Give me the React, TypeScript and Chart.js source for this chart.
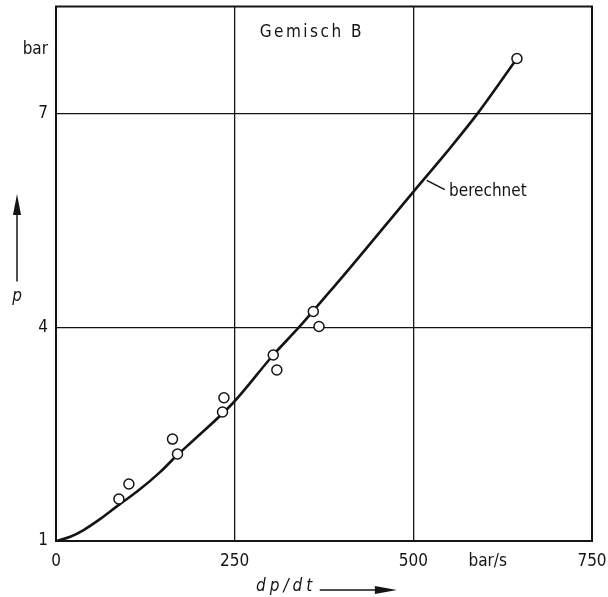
import React, { useEffect, useRef } from "react";
import { Chart, registerables } from "chart.js";

Chart.register(...registerables);

// "berechnet" curve
const CURVE_X = [0, 20, 38, 62, 87, 113, 146, 169, 192, 248, 304, 341, 383, 402, 500, 547, 590, 645];
const CURVE_Y = [1, 1.06, 1.15, 1.31, 1.5, 1.69, 1.97, 2.2, 2.41, 2.94, 3.61, 4.01, 4.5, 4.72, 5.9, 6.46, 7.0, 7.77];

// measured points
const PTS_X = [88, 102, 163, 170, 235, 233, 304, 309, 360, 368, 645];
const PTS_Y = [1.59, 1.8, 2.43, 2.22, 3.01, 2.81, 3.61, 3.4, 4.22, 4.01, 7.77];

// axis ticks (unit labels placed as ticks without grid lines)
const X_TICKS = [0, 250, 500, 604, 750];
const X_UNIT_VALUE = 604;
const X_UNIT = "bar/s";
const Y_TICKS = [1, 4, 7, 7.9];
const Y_UNIT_VALUE = 7.9;
const Y_UNIT = "bar";

const TITLE = "Gemisch B";
const CURVE_LABEL = "berechnet";
const X_TITLE = "dp/dt";
const Y_TITLE = "p";

const FONT = "'DejaVu Sans Condensed', 'Liberation Sans Narrow', 'DejaVu Sans', sans-serif";
const INK = "#141414";

const extrasPlugin = {
  id: "extras",
  afterDraw(chart: any) {
    const { ctx, chartArea, scales } = chart;
    const xs = scales.x;
    const ys = scales.y;
    ctx.save();
    // frame
    ctx.strokeStyle = INK;
    ctx.lineWidth = 2;
    ctx.strokeRect(chartArea.left, chartArea.top, chartArea.right - chartArea.left, chartArea.bottom - chartArea.top);

    ctx.fillStyle = INK;
    ctx.textBaseline = "middle";
    // title
    ctx.font = `17px ${FONT}`;
    (ctx as any).letterSpacing = "2.5px";
    ctx.textAlign = "center";
    ctx.fillText(TITLE, xs.getPixelForValue(358), ys.getPixelForValue(8.14));

    // curve label + leader
    (ctx as any).letterSpacing = "0px";
    ctx.textAlign = "left";
    ctx.fillText(CURVE_LABEL, xs.getPixelForValue(550), ys.getPixelForValue(5.9));
    ctx.lineWidth = 1.5;
    ctx.beginPath();
    ctx.moveTo(xs.getPixelForValue(518.7), ys.getPixelForValue(6.06));
    ctx.lineTo(xs.getPixelForValue(544), ys.getPixelForValue(5.93));
    ctx.stroke();

    // y title with arrow
    ctx.font = `italic 17px ${FONT}`;
    ctx.textAlign = "center";
    const px = 17;
    ctx.fillText(Y_TITLE, px, ys.getPixelForValue(4.43));
    const ya0 = ys.getPixelForValue(4.64);
    const ya1 = ys.getPixelForValue(5.87);
    ctx.lineWidth = 1.5;
    ctx.beginPath();
    ctx.moveTo(px, ya0);
    ctx.lineTo(px, ya1 + 16);
    ctx.stroke();
    ctx.beginPath();
    ctx.moveTo(px, ya1);
    ctx.lineTo(px - 4, ya1 + 21);
    ctx.lineTo(px + 4, ya1 + 21);
    ctx.closePath();
    ctx.fill();

    // x title with arrow
    (ctx as any).letterSpacing = "4px";
    ctx.fillText(X_TITLE, xs.getPixelForValue(322), 587);
    const xa0 = xs.getPixelForValue(369);
    const xa1 = xs.getPixelForValue(477);
    ctx.beginPath();
    ctx.moveTo(xa0, 590);
    ctx.lineTo(xa1 - 16, 590);
    ctx.stroke();
    ctx.beginPath();
    ctx.moveTo(xa1, 590);
    ctx.lineTo(xa1 - 22, 586);
    ctx.lineTo(xa1 - 22, 594);
    ctx.closePath();
    ctx.fill();
    ctx.restore();
  },
};

export default function App() {
  const ref = useRef<HTMLCanvasElement | null>(null);
  useEffect(() => {
    document.body.style.margin = "0";
    const canvas = ref.current;
    if (!canvas) return;
    const chart = new Chart(canvas, {
      type: "scatter",
      data: {
        datasets: [
          {
            type: "scatter",
            data: PTS_X.map((x, i) => ({ x, y: PTS_Y[i] })),
            pointStyle: "circle",
            pointRadius: 5,
            pointBackgroundColor: "#ffffff",
            pointBorderColor: INK,
            pointBorderWidth: 1.5,
            showLine: false,
          },
          {
            type: "line",
            data: CURVE_X.map((x, i) => ({ x, y: CURVE_Y[i] })),
            borderColor: INK,
            borderWidth: 2.6,
            pointRadius: 0,
            fill: false,
            cubicInterpolationMode: "monotone",
            showLine: true,
          } as any,
        ],
      },
      options: {
        responsive: false,
        animation: false,
        layout: { padding: { top: 3, right: 16, left: 0, bottom: 0 } },
        plugins: { legend: { display: false }, tooltip: { enabled: false } },
        scales: {
          x: {
            type: "linear",
            min: 0,
            max: 750,
            afterBuildTicks: (s: any) => {
              s.ticks = X_TICKS.map((v) => ({ value: v }));
            },
            afterFit: (s: any) => {
              s.height = 56;
              s.paddingLeft = 0;
              s.paddingRight = 0;
              s.paddingTop = 0;
              s.paddingBottom = 0;
            },
            grid: {
              color: (c: any) => (c.tick && c.tick.value === X_UNIT_VALUE ? "rgba(0,0,0,0)" : INK),
              lineWidth: 1.3,
              drawTicks: false,
            },
            border: { color: INK, width: 2 },
            ticks: {
              padding: 10,
              color: INK,
              maxRotation: 0,
              autoSkip: false,
              font: { family: FONT, size: 17 },
              callback: (v: any) => (v === X_UNIT_VALUE ? X_UNIT : String(v)),
            },
          },
          y: {
            type: "linear",
            min: 1,
            max: 8.5,
            afterBuildTicks: (s: any) => {
              s.ticks = Y_TICKS.map((v) => ({ value: v }));
            },
            afterFit: (s: any) => {
              s.width = 56;
              s.paddingLeft = 0;
              s.paddingRight = 0;
              s.paddingTop = 0;
              s.paddingBottom = 0;
            },
            grid: {
              color: (c: any) => (c.tick && c.tick.value === Y_UNIT_VALUE ? "rgba(0,0,0,0)" : INK),
              lineWidth: 1.3,
              drawTicks: false,
            },
            border: { color: INK, width: 2 },
            ticks: {
              padding: 8,
              color: INK,
              autoSkip: false,
              font: { family: FONT, size: 17 },
              callback: (v: any) => (v === Y_UNIT_VALUE ? Y_UNIT : String(v)),
            },
          },
        },
      },
      plugins: [extrasPlugin],
    } as any);
    return () => chart.destroy();
  }, []);
  return (
    <div style={{ width: 608, height: 597, overflow: "hidden", background: "#fff" }}>
      <canvas ref={ref} width={608} height={597} style={{ display: "block" }} />
    </div>
  );
}
